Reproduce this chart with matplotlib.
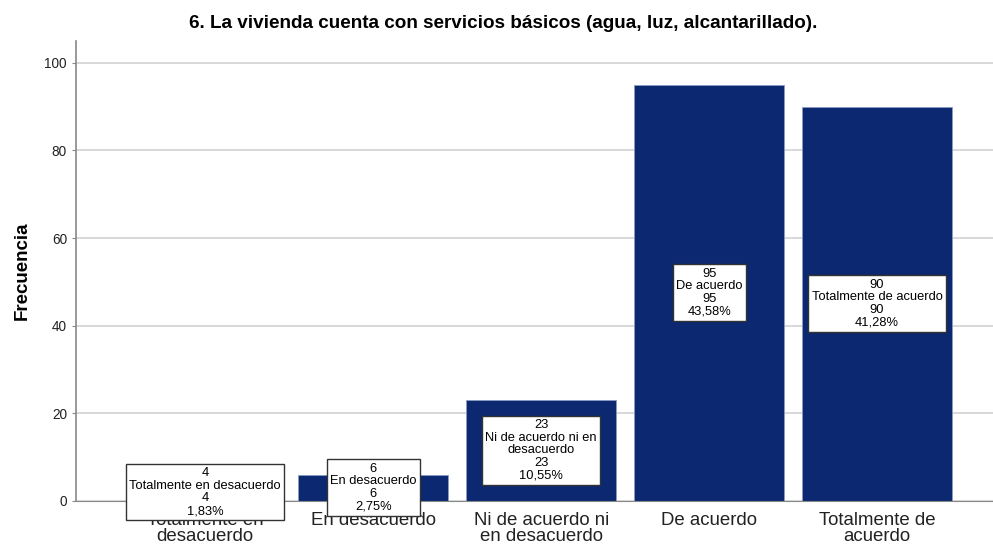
import matplotlib.pyplot as plt

plt.rcParams['font.family'] = ['Liberation Sans', 'DejaVu Sans']

categories = ['Totalmente en desacuerdo', 'En desacuerdo', 'Ni de acuerdo ni en desacuerdo',
              'De acuerdo', 'Totalmente de acuerdo']
tick_labels = ['Totalmente en\ndesacuerdo', 'En desacuerdo', 'Ni de acuerdo ni\nen desacuerdo',
               'De acuerdo', 'Totalmente de\nacuerdo']
box_names = ['Totalmente en desacuerdo', 'En desacuerdo', 'Ni de acuerdo ni en\ndesacuerdo',
             'De acuerdo', 'Totalmente de acuerdo']
counts = [4, 6, 23, 95, 90]
percents = ['1,83%', '2,75%', '10,55%', '43,58%', '41,28%']

fig = plt.figure(figsize=(9.93, 5.45), dpi=100)
ax = fig.add_axes([0.0765, 0.081, 0.9235, 0.844])

x = range(len(categories))
ax.bar(x, counts, width=0.893, color='#0b2870', edgecolor='#8a9cc4', linewidth=0.6, zorder=2)

ax.set_xlim(-0.77, 4.69)
ax.set_ylim(0, 105)
ax.set_yticks([0, 20, 40, 60, 80, 100])
ax.yaxis.grid(True, color='#d2d2d2', linewidth=1.2, zorder=0)
ax.set_axisbelow(True)
ax.set_xticks(list(x))
ax.set_xticklabels(tick_labels, fontsize=13.4, color='#222222', linespacing=0.92)
ax.tick_params(axis='x', length=0, pad=8)
ax.tick_params(axis='y', labelsize=9.8, length=3, color='#888888', labelcolor='#222222')

for s in ['top', 'right']:
    ax.spines[s].set_visible(False)
ax.spines['left'].set_color('#888888')
ax.spines['left'].set_linewidth(1.2)
ax.spines['bottom'].set_color('#888888')

for i, c in enumerate(counts):
    txt = f'{c}\n{box_names[i]}\n{c}\n{percents[i]}'
    ax.text(i, c / 2, txt, ha='center', va='center', fontsize=9.3, linespacing=1.08,
            color='black', zorder=5, clip_on=False,
            bbox=dict(facecolor='white', edgecolor='#333333', linewidth=1, pad=0.25, boxstyle='square'))

ax.set_ylabel('Frecuencia', fontsize=13.5, fontweight='bold', labelpad=10)
fig.text(0.507, 0.956, '6. La vivienda cuenta con servicios básicos (agua, luz, alcantarillado).',
         fontsize=13.6, fontweight='bold', ha='center', va='center')

fig.savefig('out.png', dpi=100)
